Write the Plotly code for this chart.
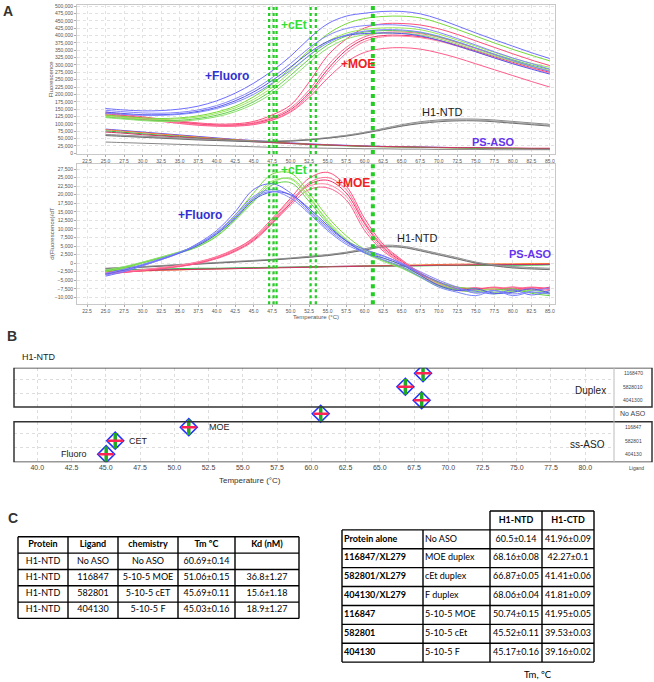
import plotly.graph_objects as go

temps = [25, 27.5, 30, 32.5, 35, 37.5, 40, 42.5, 45, 47.5, 50, 52.5, 55,
         57.5, 60, 62.5, 65, 67.5, 70, 72.5, 75, 77.5, 80, 82.5, 85]

# Panel A top: raw fluorescence (x1000)
fluoro_raw = [
    [152, 147, 144, 145, 150, 160, 178, 204, 238, 280, 330, 390, 440, 466, 476, 482, 482, 474, 456, 433, 409, 386, 364, 342, 322],
    [146, 141, 137, 136, 139, 147, 162, 185, 216, 257, 305, 358, 400, 424, 434, 437, 435, 427, 411, 390, 368, 345, 324, 305, 286],
    [140, 135, 131, 131, 134, 142, 156, 178, 208, 247, 293, 342, 380, 400, 407, 409, 407, 399, 384, 365, 345, 324, 304, 286, 269],
    [136, 132, 129, 129, 132, 139, 152, 172, 200, 238, 282, 332, 375, 402, 415, 420, 419, 412, 398, 379, 358, 336, 315, 296, 278],
]
cet_raw = [
    [130, 125, 120, 118, 120, 127, 140, 160, 192, 235, 290, 350, 405, 440, 458, 465, 466, 460, 443, 421, 398, 375, 353, 333, 314],
    [126, 121, 117, 115, 117, 123, 135, 154, 183, 224, 277, 333, 380, 408, 421, 426, 426, 420, 405, 385, 364, 343, 323, 306, 292],
    [123, 118, 113, 111, 112, 118, 129, 147, 175, 214, 265, 320, 368, 398, 412, 417, 416, 410, 396, 378, 358, 337, 318, 300, 285],
    [121, 116, 111, 108, 109, 114, 124, 141, 167, 204, 253, 308, 357, 388, 403, 408, 408, 402, 389, 371, 351, 331, 312, 295, 280],
]
moe_raw = [
    [140, 132, 124, 116, 109, 103, 99, 100, 108, 130, 164, 242, 332, 388, 426, 440, 441, 436, 423, 404, 382, 360, 338, 317, 298],
    [137, 129, 121, 114, 107, 101, 97, 97, 104, 122, 154, 215, 298, 360, 396, 410, 412, 407, 394, 376, 356, 335, 315, 296, 280],
    [134, 127, 119, 112, 105, 99, 95, 95, 101, 118, 148, 205, 285, 350, 388, 400, 401, 396, 384, 367, 348, 328, 309, 291, 275],
    [132, 125, 117, 110, 103, 97, 93, 93, 99, 114, 143, 198, 275, 340, 380, 396, 398, 393, 381, 364, 345, 325, 306, 289, 272],
    [129, 122, 115, 108, 101, 95, 92, 92, 97, 112, 140, 190, 255, 310, 343, 356, 359, 354, 341, 324, 304, 284, 264, 244, 225],
]
ntd_raw = [
    [64, 61, 58, 55, 52, 49, 46, 43, 41, 41, 43, 47, 53, 61, 71, 84, 97, 107, 113, 116, 116, 113, 108, 103, 98],
    [62, 59, 56, 53, 50, 47, 44, 42, 40, 40, 42, 46, 52, 60, 70, 82, 94, 104, 110, 113, 113, 110, 105, 100, 95],
    [60, 57, 54, 51, 48, 45, 43, 41, 39, 39, 41, 45, 51, 58, 68, 80, 92, 101, 107, 110, 110, 107, 102, 97, 92],
]
psaso_raw = [
    [82, 77, 72, 67, 62, 57, 52, 47, 43, 39, 35, 32, 29, 27, 25, 23, 22, 21, 20, 19, 18, 17, 16, 15, 14],
    [80, 75, 70, 65, 60, 55, 50, 46, 42, 38, 34, 31, 28, 26, 24, 22, 21, 20, 19, 18, 17, 16, 16, 15, 15],
    [76, 71, 66, 61, 57, 52, 48, 44, 40, 36, 33, 30, 27, 25, 23, 22, 21, 20, 19, 18, 17, 17, 16, 16, 15],
    [72, 68, 63, 59, 55, 51, 47, 43, 39, 36, 33, 30, 28, 26, 24, 23, 22, 21, 20, 19, 19, 18, 18, 17, 17],
    [38, 36, 34, 32, 30, 28, 26, 24, 22, 20, 19, 18, 17, 16, 15, 15, 14, 14, 13, 13, 13, 12, 12, 12, 12],
]

# Panel A bottom: d(Fluorescence)/dT (x1000)
fluoro_deriv = [
    [-3.8, -2.5, -0.8, 1.0, 3.0, 5.8, 9.5, 15.0, 21.5, 23.2, 20.5, 15.5, 10.5, 6.5, 4.0, 2.2, -0.2, -3.0, -5.5, -7.5, -8.2, -9.0, -7.8, -9.3, -8.0],
    [-3.5, -2.3, -0.7, 1.0, 2.9, 5.5, 9.0, 14.0, 19.5, 21.5, 19.8, 15.0, 10.0, 6.0, 3.5, 2.0, 0.0, -2.5, -5.0, -7.0, -8.8, -8.0, -9.0, -8.2, -7.2],
    [-3.2, -2.0, -0.5, 1.2, 3.0, 5.2, 8.5, 13.0, 18.5, 20.8, 20.0, 16.0, 11.0, 6.5, 3.0, 1.5, -0.5, -3.5, -6.5, -8.0, -7.5, -8.8, -8.5, -7.5, -8.8],
    [-3.0, -1.8, -0.4, 1.3, 3.2, 5.5, 8.8, 13.5, 19.0, 21.0, 19.0, 14.5, 9.5, 5.5, 3.0, 1.0, -1.0, -4.0, -7.0, -8.5, -9.5, -8.0, -9.5, -8.5, -9.0],
]
cet_deriv = [
    [-2.5, -1.5, 0.0, 1.5, 3.0, 5.0, 8.5, 14.0, 20.5, 26.0, 26.3, 20.5, 13.5, 8.0, 4.0, 1.5, -0.5, -3.0, -5.5, -7.0, -7.5, -8.5, -8.0, -8.5, -9.0],
    [-2.3, -1.3, 0.2, 1.7, 3.3, 5.3, 8.3, 13.2, 19.0, 24.0, 24.5, 19.0, 12.5, 7.0, 3.5, 1.0, -1.0, -3.5, -6.0, -7.5, -8.0, -7.5, -8.5, -7.8, -8.5],
    [-2.2, -1.2, 0.2, 1.6, 3.0, 4.8, 7.8, 12.5, 18.0, 22.8, 23.5, 18.0, 11.5, 6.5, 3.2, 0.8, -1.3, -4.0, -6.5, -7.8, -8.5, -8.0, -7.5, -8.8, -9.5],
    [-2.0, -1.0, 0.3, 1.8, 3.3, 5.0, 8.0, 12.8, 18.5, 23.5, 24.8, 19.5, 12.0, 6.8, 3.0, 0.5, -1.5, -4.2, -6.8, -8.0, -8.0, -9.0, -8.2, -8.0, -8.7],
]
moe_deriv = [
    [-3.0, -2.6, -2.1, -1.5, -0.8, 0.2, 1.8, 4.0, 7.5, 13.0, 19.0, 24.8, 26.5, 22.5, 13.0, 5.5, 1.0, -2.8, -5.5, -7.0, -7.5, -7.0, -7.5, -7.0, -7.5],
    [-2.8, -2.4, -1.9, -1.3, -0.6, 0.4, 1.9, 4.2, 7.2, 12.2, 18.0, 23.5, 25.0, 21.5, 12.0, 5.0, 0.8, -3.0, -5.8, -7.3, -7.8, -7.2, -8.0, -7.2, -7.8],
    [-3.2, -2.7, -2.2, -1.6, -0.9, 0.0, 1.5, 3.6, 6.8, 11.8, 17.5, 23.0, 24.2, 20.5, 11.5, 4.5, 0.5, -3.2, -6.0, -7.5, -7.2, -7.8, -7.0, -7.8, -7.0],
    [-2.9, -2.5, -2.0, -1.4, -0.7, 0.3, 1.7, 3.8, 7.0, 12.5, 18.5, 22.5, 23.0, 19.5, 10.5, 4.0, 0.2, -3.5, -6.2, -7.8, -8.0, -7.5, -7.0, -7.5, -8.0],
    [-3.1, -2.7, -2.2, -1.6, -1.0, -0.1, 1.3, 3.4, 6.5, 11.5, 17.0, 21.5, 22.0, 18.5, 9.5, 3.5, 0.0, -3.5, -6.5, -8.0, -7.8, -7.2, -7.8, -7.2, -7.5],
]
ntd_deriv = [
    [-1.5, -1.2, -1.0, -0.7, -0.4, -0.1, 0.2, 0.5, 0.8, 1.1, 1.5, 2.0, 2.5, 3.2, 4.2, 5.2, 5.0, 4.0, 2.8, 1.6, 0.3, -0.5, -1.0, -1.3, -1.5],
    [-1.6, -1.3, -1.1, -0.8, -0.5, -0.2, 0.1, 0.4, 0.7, 1.0, 1.4, 1.8, 2.3, 3.0, 4.0, 4.9, 4.8, 3.8, 2.6, 1.4, 0.1, -0.7, -1.2, -1.5, -1.7],
    [-1.7, -1.4, -1.2, -0.9, -0.6, -0.3, 0.0, 0.3, 0.6, 0.9, 1.3, 1.7, 2.2, 2.9, 3.8, 4.7, 4.6, 3.6, 2.4, 1.2, 0.0, -0.8, -1.4, -1.7, -1.9],
]
psaso_deriv = [
    [-2.2, -2.1, -2.0, -1.9, -1.8, -1.7, -1.6, -1.5, -1.4, -1.3, -1.2, -1.1, -1.0, -0.9, -0.8, -0.8, -0.7, -0.7, -0.6, -0.6, -0.5, -0.5, -0.5, -0.4, -0.4],
    [-2.6, -2.4, -2.3, -2.1, -2.0, -1.8, -1.7, -1.6, -1.4, -1.3, -1.2, -1.1, -1.0, -0.9, -0.8, -0.7, -0.6, -0.5, -0.4, -0.3, -0.3, -0.2, -0.2, -0.1, -0.1],
    [-2.0, -1.9, -1.8, -1.7, -1.6, -1.5, -1.5, -1.4, -1.3, -1.2, -1.2, -1.1, -1.0, -1.0, -0.9, -0.9, -0.8, -0.8, -0.7, -0.7, -0.7, -0.6, -0.6, -0.6, -0.5],
    [-2.4, -2.3, -2.2, -2.0, -1.9, -1.8, -1.7, -1.6, -1.5, -1.4, -1.3, -1.2, -1.1, -1.0, -0.9, -0.8, -0.8, -0.7, -0.6, -0.6, -0.5, -0.5, -0.4, -0.4, -0.3],
]

# melting temperatures marked with green dotted lines
tm_lines = [47.1, 47.7, 48.1, 52.7, 53.4, 61.1]

# Panel B
b_rows = ['1168470', '5828010', '4041300', 'No ASO', '116847', '582801', '404130']
b_tm = [68.16, 66.87, 68.06, 60.69, 51.06, 45.69, 45.03]
b_ticks = [40 + 2.5 * i for i in range(17)]

# Panel C, left table
left_header = ['Protein', 'Ligand', 'chemistry', 'Tm ºC', 'Kd (nM)']
left_protein = ['H1-NTD', 'H1-NTD', 'H1-NTD', 'H1-NTD']
left_ligand = ['No ASO', '116847', '582801', '404130']
left_chem = ['No ASO', '5-10-5 MOE', '5-10-5 cET', '5-10-5 F']
left_tm = ['60.69±0.14', '51.06±0.15', '45.69±0.11', '45.03±0.16']
left_kd = ['', '36.8±1.27', '15.6±1.18', '18.9±1.27']

# Panel C, right table
right_header = ['H1-NTD', 'H1-CTD']
right_construct = ['Protein alone', '116847/XL279', '582801/XL279', '404130/XL279', '116847', '582801', '404130']
right_ligand = ['No ASO', 'MOE duplex', 'cEt duplex', 'F duplex', '5-10-5 MOE', '5-10-5 cEt', '5-10-5 F']
right_ntd = ['60.5±0.14', '68.16±0.08', '66.87±0.05', '68.06±0.04', '50.74±0.15', '45.52±0.11', '45.17±0.16']
right_ctd = ['41.96±0.09', '42.27±0.1', '41.41±0.06', '41.81±0.09', '41.95±0.05', '39.53±0.03', '39.16±0.02']

W, H = 654, 682


def px(x):
    return x / W


def py(y):
    return 1 - y / H


blues = ['#6f6fff', '#8585ff', '#5757ee', '#7b86ff']
greens = ['#79da3a', '#9ce85c', '#62cf48', '#8be06c']
reds = ['#ff4f7a', '#ff6f96', '#f0306a', '#ff85a5', '#ff5c8a']
greys = ['#8a8a8a', '#a5a5a5', '#6f6f6f']
psaso_cols = ['#4a4aff', '#ff7a30', '#33bb44', '#cc3366', '#888888']

fig = go.Figure()


def add_group(curves, colors, xa, ya):
    for c, col in zip(curves, colors):
        fig.add_trace(go.Scatter(
            x=temps, y=[v * 1000 for v in c], mode='lines',
            line=dict(color=col, width=1, shape='spline'),
            xaxis=xa, yaxis=ya, showlegend=False, hoverinfo='skip'))


# Панель A, сверху
add_group(psaso_raw, psaso_cols, 'x', 'y')
add_group(ntd_raw, greys, 'x', 'y')
add_group(moe_raw, reds, 'x', 'y')
add_group(cet_raw, greens, 'x', 'y')
add_group(fluoro_raw, blues, 'x', 'y')

# Панель A, снизу
add_group(psaso_deriv, psaso_cols, 'x2', 'y2')
add_group(ntd_deriv, greys, 'x2', 'y2')
add_group(moe_deriv, reds, 'x2', 'y2')
add_group(cet_deriv, greens, 'x2', 'y2')
add_group(fluoro_deriv, blues, 'x2', 'y2')

# Панель B: маркеры Tm
rows_idx = list(range(len(b_rows)))
fig.add_trace(go.Scatter(x=b_tm, y=rows_idx, mode='markers', xaxis='x3', yaxis='y3',
                         marker=dict(symbol='diamond-open', size=13, color='#2233ff', line=dict(width=1.6)),
                         showlegend=False, hoverinfo='skip'))
fig.add_trace(go.Scatter(x=b_tm, y=rows_idx, mode='markers', xaxis='x3', yaxis='y3',
                         marker=dict(symbol='line-ns-open', size=11, color='#22aa22', line=dict(width=3.5)),
                         showlegend=False, hoverinfo='skip'))
fig.add_trace(go.Scatter(x=b_tm, y=rows_idx, mode='markers', xaxis='x3', yaxis='y3',
                         marker=dict(symbol='line-ew-open', size=11, color='#ff2255', line=dict(width=2.5)),
                         showlegend=False, hoverinfo='skip'))

shapes = []

# Панель C: таблицы на собственных осях (ячейки в единицах столбцов/строк)
tfont = dict(family='Lato', size=9, color='black')
tline = dict(color='black', width=1.4)


def add_text(xs, ys, texts, pos, xa, ya):
    fig.add_trace(go.Scatter(x=xs, y=ys, text=texts, mode='text', textposition=pos,
                             textfont=tfont, xaxis=xa, yaxis=ya, showlegend=False,
                             hoverinfo='skip', cliponaxis=False))


def hline(xa, ya, y, x0, x1):
    shapes.append(dict(type='line', xref=xa, yref=ya, x0=x0, x1=x1, y0=y, y1=y, line=tline))


def vline(xa, ya, x, y0, y1):
    shapes.append(dict(type='line', xref=xa, yref=ya, x0=x, x1=x, y0=y0, y1=y1, line=tline))


# левая таблица
left_w = [50, 50, 60, 57, 64]
left_cols = [left_protein, left_ligand, left_chem, left_tm, left_kd]
left_edges = [sum(left_w[:i]) for i in range(len(left_w) + 1)]
n_left = len(left_protein) + 1
for j, col in enumerate(left_cols):
    xc = left_edges[j] + left_w[j] / 2
    texts = ['<b>%s</b>' % left_header[j]] + col
    add_text([xc] * n_left, [r + 0.5 for r in range(n_left)], texts, 'middle center', 'x4', 'y4')
for r in range(n_left + 1):
    hline('x4', 'y4', r, 0, left_edges[-1])
for e in left_edges:
    vline('x4', 'y4', e, 0, n_left)

# правая таблица
right_w = [81, 67, 52, 52]
right_cols = [['<b>%s</b>' % c for c in right_construct], right_ligand, right_ntd, right_ctd]
right_edges = [sum(right_w[:i]) for i in range(len(right_w) + 1)]
n_right = len(right_construct) + 1
ys = [r + 1.5 for r in range(len(right_construct))]
for j, col in enumerate(right_cols):
    if j < 2:
        add_text([right_edges[j] + 2] * len(col), ys, col, 'middle right', 'x5', 'y5')
    else:
        xc = right_edges[j] + right_w[j] / 2
        add_text([xc] * (len(col) + 1), [0.5] + ys, ['<b>%s</b>' % right_header[j - 2]] + col,
                 'middle center', 'x5', 'y5')
hline('x5', 'y5', 0, right_edges[2], right_edges[-1])
for r in range(1, n_right + 1):
    hline('x5', 'y5', r, 0, right_edges[-1])
for j, e in enumerate(right_edges):
    vline('x5', 'y5', e, 1 if j < 2 else 0, n_right)

# зелёные пунктирные линии Tm
for t in tm_lines:
    w = 4 if t > 60 else 2.2
    for xr, yr in (('x', 'y domain'), ('x2', 'y2 domain')):
        shapes.append(dict(type='line', xref=xr, yref=yr, x0=t, x1=t, y0=0, y1=1,
                           line=dict(color='#22cc22', width=w, dash='dot')))

# рамки панели B
box_line = dict(color='#333333', width=1.5)
shapes.append(dict(type='rect', xref='paper', yref='y3', x0=px(14), x1=px(652), y0=-0.4, y1=2.5, line=box_line))
shapes.append(dict(type='rect', xref='paper', yref='y3', x0=px(14), x1=px(652), y0=3.6, y1=6.6, line=box_line))
shapes.append(dict(type='line', xref='paper', yref='y3', x0=px(614), x1=px(614), y0=-0.4, y1=6.6,
                   line=dict(color='#bbbbbb', width=1)))

tick_font = dict(family='Liberation Sans', size=5, color='#555555')
grid = dict(showgrid=True, gridcolor='#e2e2e2', griddash='dot', gridwidth=1)
frame = dict(showline=True, mirror=True, linecolor='#c8c8c8', linewidth=1)
xa_common = dict(range=[21.15, 85.7], tick0=22.5, dtick=2.5, tickformat='.1f',
                 tickfont=tick_font, ticks='outside', ticklen=2, tickcolor='#aaaaaa',
                 zeroline=False, **grid, **frame)
hidden = dict(visible=False, fixedrange=True)

annotations = [
    dict(text='<b>A</b>', x=px(8), y=py(9), font=dict(size=14, family='Liberation Sans')),
    dict(text='Fluorescence', x=px(51), y=py(78), textangle=-90, font=dict(size=6, color='#555')),
    dict(text='d(Fluorescence)/dT', x=px(52), y=py(233), textangle=-90, font=dict(size=6, color='#555')),
    dict(text='Temperature (°C)', x=px(316), y=py(317), font=dict(size=6, color='#555')),
    dict(text='<b>+Fluoro</b>', x=px(227), y=py(74), font=dict(size=12, color='#3030d0')),
    dict(text='<b>+cEt</b>', x=px(294), y=py(23), font=dict(size=12, color='#33dd33')),
    dict(text='<b>+MOE</b>', x=px(358), y=py(62), font=dict(size=12, color='#ee2222')),
    dict(text='H1-NTD', x=px(442), y=py(111), font=dict(size=11, color='#222')),
    dict(text='<b>PS-ASO</b>', x=px(493), y=py(141), font=dict(size=11, color='#6633ee')),
    dict(text='<b>+Fluoro</b>', x=px(200), y=py(214), font=dict(size=12, color='#3030d0')),
    dict(text='<b>+cEt</b>', x=px(294), y=py(169), font=dict(size=12, color='#33dd33')),
    dict(text='<b>+MOE</b>', x=px(353), y=py(182), font=dict(size=12, color='#ee2222')),
    dict(text='H1-NTD', x=px(417), y=py(237), font=dict(size=11, color='#222')),
    dict(text='<b>PS-ASO</b>', x=px(530), y=py(253), font=dict(size=11, color='#6633ee')),
    dict(text='<b>B</b>', x=px(12), y=py(336), font=dict(size=14, family='Liberation Sans')),
    dict(text='H1-NTD', x=px(38), y=py(357), font=dict(size=9, color='#222')),
    dict(text='Duplex', x=px(590), y=py(391), font=dict(size=10, color='#222')),
    dict(text='ss-ASO', x=px(587), y=py(445), font=dict(size=10, color='#222')),
    dict(text='Ligand', x=px(636), y=py(469), font=dict(size=5, color='#444')),
    dict(text='Temperature (°C)', x=px(250), y=py(481), font=dict(size=8, color='#333')),
    dict(text='MOE', x=53.3, y=4, xref='x3', yref='y3', font=dict(size=9, color='#222')),
    dict(text='CET', x=47.4, y=5, xref='x3', yref='y3', font=dict(size=9, color='#222')),
    dict(text='Fluoro', x=42.7, y=6, xref='x3', yref='y3', font=dict(size=9, color='#222')),
    dict(text='<b>C</b>', x=px(13), y=py(519), font=dict(size=14, family='Liberation Sans')),
    dict(text='Tm, ºC', x=px(538), y=py(676), font=dict(size=9.5, family='Lato', color='black')),
]
for i, lab in enumerate(b_rows):
    annotations.append(dict(text=lab, x=px(633), y=i, yref='y3',
                            font=dict(size=7 if lab == 'No ASO' else 5, color='#444')))
for a in annotations:
    a.setdefault('xref', 'paper')
    a.setdefault('yref', 'paper')
    a.setdefault('showarrow', False)
    a.setdefault('xanchor', 'center')
    a.setdefault('yanchor', 'middle')

fig.update_layout(
    width=W, height=H,
    margin=dict(l=0, r=0, t=0, b=0),
    paper_bgcolor='white', plot_bgcolor='white',
    font=dict(family='Liberation Sans', color='#333'),
    showlegend=False,
    xaxis=dict(domain=[px(77), px(555)], anchor='y', **xa_common),
    yaxis=dict(domain=[py(153), py(3)], anchor='x', range=[-3000, 504000], tick0=0, dtick=25000,
               tickformat=',d', tickfont=tick_font, ticks='outside', ticklen=2, tickcolor='#aaaaaa',
               zeroline=False, **grid, **frame),
    xaxis2=dict(domain=[px(77), px(555)], anchor='y2', **xa_common),
    yaxis2=dict(domain=[py(304), py(163)], anchor='x2', range=[-12000, 28950], tick0=0, dtick=2500,
                tickformat=',d', tickfont=tick_font, ticks='outside', ticklen=2, tickcolor='#aaaaaa',
                zeroline=False, **grid, **frame),
    xaxis3=dict(domain=[px(14), px(614)], anchor='y3', range=[38.3, 82.1], tickvals=b_ticks,
                tickformat='.1f', tickfont=dict(size=7, color='#444'), ticks='', zeroline=False,
                showgrid=True, gridcolor='#dddddd', griddash='dot'),
    yaxis3=dict(domain=[py(463), py(368)], anchor='x3', range=[6.6, -0.4],
                tickvals=[0.5, 1.5, 4.5, 5.5], showticklabels=False, ticks='', zeroline=False,
                showgrid=True, gridcolor='#dddddd', griddash='dot'),
    # оси таблиц: немного запаса, чтобы рамки не обрезались
    xaxis4=dict(domain=[px(16), px(301)], anchor='y4', range=[-2, 283], **hidden),
    yaxis4=dict(domain=[py(622), py(536)], anchor='x4', range=[5.12, -0.12], **hidden),
    xaxis5=dict(domain=[px(340), px(596)], anchor='y5', range=[-2, 254], **hidden),
    yaxis5=dict(domain=[py(666), py(510)], anchor='x5', range=[8.105, -0.105], **hidden),
    shapes=shapes,
    annotations=annotations,
)

fig.write_html("out.html", config={'displayModeBar': False},
               post_script="document.body.style.margin='0';")
